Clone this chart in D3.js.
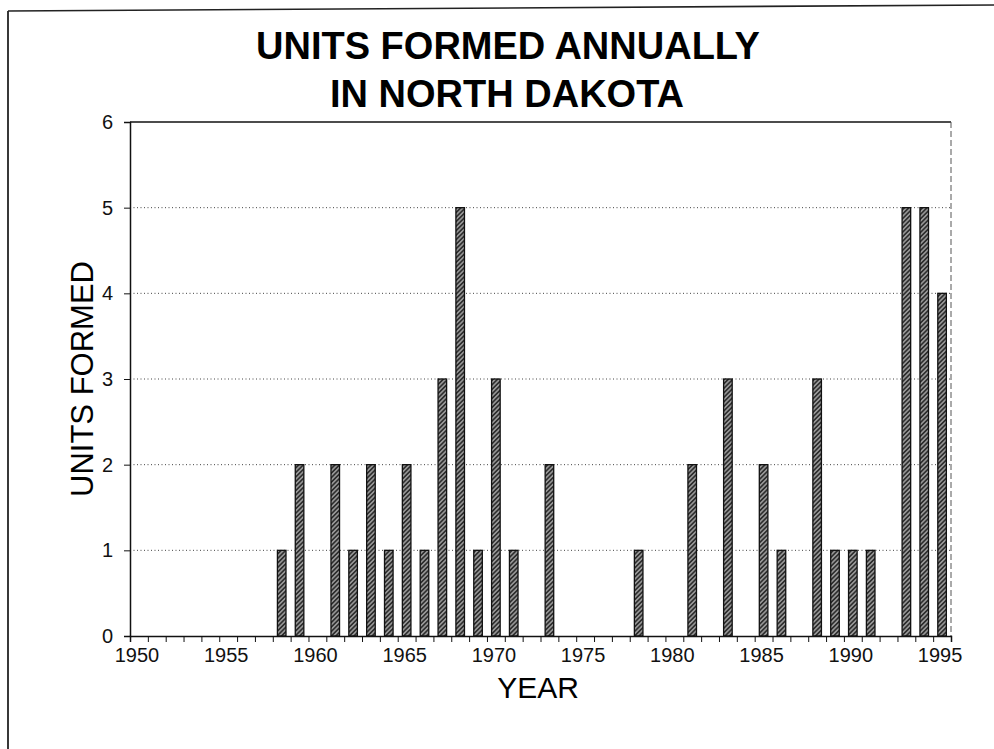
<!DOCTYPE html>
<meta charset="utf-8">
<style>
  body { margin: 0; background: #fff; }
  svg { display: block; font-family: "Liberation Sans", Arial, sans-serif; }
  .grid line { stroke: #444; stroke-dasharray: 1,2.5; stroke-width: 1; }
  .axis path, .axis line { stroke: #111; }
</style>
<body>
<script src="https://d3js.org/d3.v7.min.js"></script>
<script>
// data
var years = d3.range(1950, 1996);
var units = [0,0,0,0,0,0,0,0,1,2,   // 1950-1959
             0,2,1,2,1,2,1,3,5,1,   // 1960-1969
             3,1,0,2,0,0,0,0,1,0,   // 1970-1979
             0,2,0,3,0,2,1,0,3,1,   // 1980-1989
             1,1,0,5,5,4];          // 1990-1995
var xTickLabels = [1950,1955,1960,1965,1970,1975,1980,1985,1990,1995];
var yTicks = [0,1,2,3,4,5,6];
var gridValues = [1,2,3,4,5];

var W = 994, H = 749;
var mLeft = 130, mRight = 951, mTop = 122, mBottom = 636;

var svg = d3.select("body").append("svg").attr("width", W).attr("height", H);

// hatch for the bars
var defs = svg.append("defs");
var pat = defs.append("pattern")
  .attr("id", "hatch")
  .attr("patternUnits", "userSpaceOnUse")
  .attr("width", 3.2).attr("height", 3.2)
  .attr("patternTransform", "rotate(45)");
pat.append("rect").attr("width", 3.2).attr("height", 3.2).attr("fill", "#2e2e2e");
pat.append("line").attr("x1", 0.8).attr("y1", 0).attr("x2", 0.8).attr("y2", 3.2)
  .attr("stroke", "#b8b8b8").attr("stroke-width", 1.2);

// page frame (scan edge)
svg.append("line").attr("x1", 8).attr("y1", 11).attr("x2", 994).attr("y2", 5)
  .attr("stroke", "#222").attr("stroke-width", 1.6);
svg.append("line").attr("x1", 8).attr("y1", 11).attr("x2", 8).attr("y2", 749)
  .attr("stroke", "#222").attr("stroke-width", 1.8);

// title
svg.append("text").attr("x", 508).attr("y", 59).attr("text-anchor", "middle")
  .style("font-size", "38px").style("font-weight", "bold")
  .text("UNITS FORMED ANNUALLY");
svg.append("text").attr("x", 507).attr("y", 107).attr("text-anchor", "middle")
  .style("font-size", "38px").style("font-weight", "bold")
  .text("IN NORTH DAKOTA");

var x = d3.scaleBand().domain(years).range([mLeft, mRight])
  .paddingInner(0.52).paddingOuter(0.26);
var xb = d3.scaleLinear().domain([0, years.length]).range([mLeft, mRight]);
var y = d3.scaleLinear().domain([0, 6]).range([mBottom, mTop]);

// gridlines
svg.append("g").attr("class", "grid")
  .selectAll("line").data(gridValues).enter().append("line")
  .attr("x1", mLeft).attr("x2", mRight)
  .attr("y1", d => y(d)).attr("y2", d => y(d));

// plot frame top and right
svg.append("line").attr("x1", mLeft).attr("x2", mRight).attr("y1", y(6)).attr("y2", y(6))
  .attr("stroke", "#111").attr("stroke-width", 1.5);
svg.append("line").attr("x1", mRight).attr("x2", mRight).attr("y1", y(6)).attr("y2", y(0))
  .attr("stroke", "#555").attr("stroke-width", 1).attr("stroke-dasharray", "6,3");

// bars
svg.append("g").selectAll("rect")
  .data(years.map((yr, i) => ({ yr: yr, v: units[i] })).filter(d => d.v > 0))
  .enter().append("rect")
  .attr("x", d => x(d.yr))
  .attr("width", x.bandwidth())
  .attr("y", d => y(d.v))
  .attr("height", d => y(0) - y(d.v))
  .attr("fill", "url(#hatch)")
  .attr("stroke", "#111").attr("stroke-width", 1.3);

// y axis
svg.append("g").attr("class", "axis")
  .attr("transform", "translate(" + mLeft + ",0)")
  .call(d3.axisLeft(y).tickValues(yTicks).tickFormat(d3.format("d")).tickSize(6).tickPadding(11))
  .call(g => g.select(".domain").attr("stroke-width", 1.5))
  .call(g => g.selectAll("text").style("font-size", "20px").attr("fill", "#111"));

// x axis: ticks on category boundaries, labels at category centres
svg.append("g").attr("class", "axis")
  .attr("transform", "translate(0," + mBottom + ")")
  .call(d3.axisBottom(xb).tickValues(d3.range(years.length + 1)).tickFormat("").tickSize(6))
  .call(g => g.select(".domain").attr("stroke-width", 1.5));
svg.append("g").attr("class", "axis")
  .attr("transform", "translate(-2," + mBottom + ")")
  .call(d3.axisBottom(x).tickValues(xTickLabels).tickSize(0).tickPadding(12))
  .call(g => g.select(".domain").remove())
  .call(g => g.selectAll("text").style("font-size", "20px").attr("fill", "#111"));

// axis titles
svg.append("text").attr("x", 538).attr("y", 698).attr("text-anchor", "middle")
  .style("font-size", "30px").text("YEAR");
svg.append("text")
  .attr("transform", "translate(93," + ((mTop + mBottom) / 2) + ") rotate(-90)")
  .attr("text-anchor", "middle")
  .style("font-size", "31px").text("UNITS FORMED");
</script>
